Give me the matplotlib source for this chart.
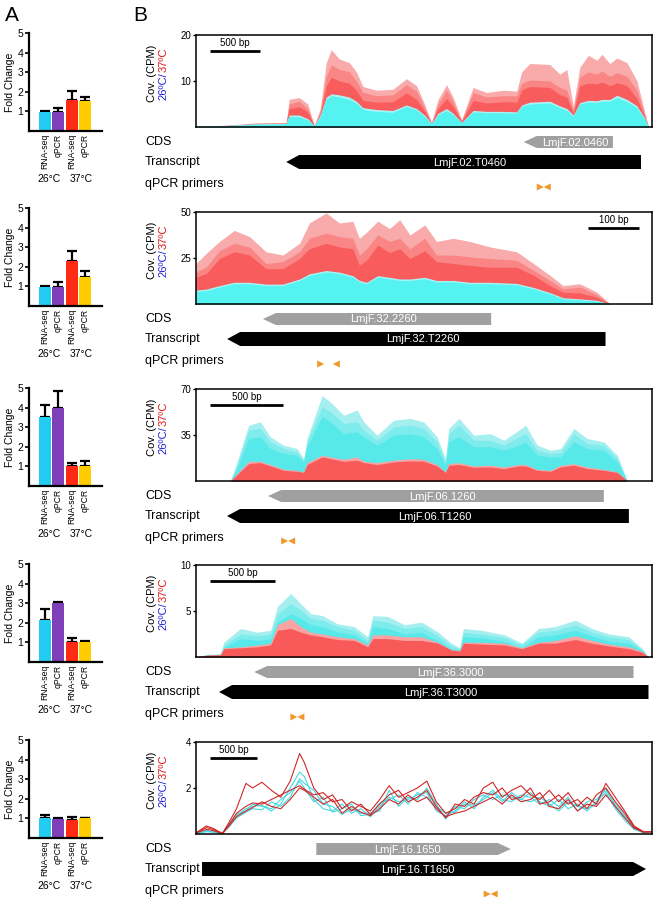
import matplotlib
matplotlib.use("Agg")
import matplotlib.pyplot as plt
from matplotlib.patches import Polygon
from matplotlib.transforms import blended_transform_factory

# ---------------- panel A: fold change bars ----------------
bar_labels = ["RNA-seq", "qPCR", "RNA-seq", "qPCR"]
temps = ["26°C", "37°C"]
bar_colors = ["#22CCF2", "#7E3FB8", "#FF2A14", "#FFCC00"]

fold_1 = [0.95, 0.95, 1.6, 1.55]
err_1 = [0.05, 0.2, 0.42, 0.2]
fold_2 = [0.95, 0.95, 2.3, 1.5]
err_2 = [0.08, 0.25, 0.5, 0.3]
fold_3 = [3.5, 4.0, 1.0, 1.0]
err_3 = [0.65, 0.85, 0.15, 0.3]
fold_4 = [2.15, 3.0, 1.0, 1.0]
err_4 = [0.55, 0.05, 0.2, 0.08]
fold_5 = [1.0, 0.98, 0.92, 1.0]
err_5 = [0.18, 0.03, 0.17, 0.04]

# ---------------- panel B: coverage tracks ----------------
# locus 1: LmjF.02.0460 (37C replicates behind, 26C in front)
p1_len = 4550
p1_bp = [0, 300, 600, 900, 930, 1030, 1115, 1180, 1240, 1300, 1350, 1430, 1530, 1600,
         1665, 1800, 1965, 2100, 2200, 2280, 2350, 2415, 2500, 2565, 2650, 2765, 2900,
         3065, 3200, 3250, 3330, 3530, 3630, 3700, 3765, 3830, 3915, 4000, 4050, 4130,
         4200, 4300, 4400, 4480, 4515, 4550]
p1_red_hi = [0.1, 0.4, 0.9, 1.0, 6.0, 6.4, 5.0, 0.3, 4.0, 14.0, 16.8, 14.8, 14.0, 12.0,
             8.8, 8.0, 8.2, 10.5, 9.0, 5.0, 1.0, 6.0, 9.2, 6.5, 1.5, 8.6, 7.5,
             8.0, 7.8, 12.0, 13.8, 13.6, 11.5, 12.5, 4.5, 13.0, 15.6, 14.5, 15.8, 13.8,
             15.0, 14.0, 10.0, 3.0, 0, 0]
p1_red_mid = [0.1, 0.35, 0.8, 0.9, 5.0, 5.6, 4.0, 0.3, 3.4, 11.0, 13.5, 12.5, 12.0, 10.0,
              7.5, 6.8, 7.0, 9.2, 7.8, 4.2, 0.9, 5.0, 8.0, 5.5, 1.3, 7.5, 6.5,
              6.8, 6.8, 9.5, 10.2, 10.0, 8.6, 8.0, 3.6, 10.8, 12.0, 11.5, 12.2, 11.0,
              11.8, 11.0, 8.0, 2.5, 0, 0]
p1_red_lo = [0.1, 0.3, 0.7, 0.8, 4.0, 4.4, 3.3, 0.3, 2.8, 9.0, 10.8, 10.0, 9.5, 8.0,
             5.8, 5.4, 5.5, 7.4, 6.0, 3.5, 0.8, 4.0, 6.2, 4.5, 1.2, 5.8, 5.2,
             5.5, 5.4, 8.0, 8.8, 8.6, 7.0, 6.5, 3.0, 9.0, 9.5, 9.4, 9.8, 9.0,
             9.6, 9.0, 6.2, 2.0, 0, 0]
p1_cyan_hi = [0.1, 0.35, 0.7, 0.8, 2.6, 2.6, 1.8, 0.3, 2.6, 6.5, 7.2, 7.0, 6.5, 5.6,
              4.2, 3.8, 3.6, 4.8, 4.0, 2.6, 0.8, 3.0, 4.0, 3.0, 1.0, 3.6, 3.4,
              3.4, 3.3, 4.8, 5.4, 5.6, 4.6, 4.0, 2.6, 5.3, 5.8, 5.7, 6.0, 6.0,
              6.9, 6.0, 4.6, 1.8, 0, 0]
p1_cyan_lo = [0.1, 0.3, 0.6, 0.7, 2.3, 2.2, 1.5, 0.3, 2.3, 6.0, 6.8, 6.5, 6.0, 5.2,
              3.8, 3.4, 3.2, 4.5, 3.7, 2.3, 0.7, 2.7, 3.6, 2.7, 0.9, 3.3, 3.1,
              3.1, 3.0, 4.5, 5.0, 5.2, 4.2, 3.6, 2.3, 5.0, 5.4, 5.3, 5.6, 5.6,
              6.4, 5.5, 4.2, 1.6, 0, 0]

# locus 2: LmjF.32.2260
p2_len = 893
p2_bp = [0, 20, 46, 75, 105, 137, 170, 203, 222, 255, 281, 307, 320, 334, 356, 379,
         399, 419, 448, 471, 504, 536, 576, 628, 661, 693, 719, 752, 785, 811, 893]
p2_red_hi = [22, 27.5, 34, 40, 36.6, 28.4, 26.6, 33, 44, 49.5, 44, 45, 35.7, 39, 45, 41,
             45.8, 37.5, 43, 34, 35.7, 34, 31, 28.4, 22, 15.6, 10, 11, 6.4, 0, 0]
p2_red_mid = [17.4, 20, 29, 33, 31, 22, 23, 28.4, 35.7, 38.5, 36.6, 35.7, 26.6, 30, 37.5, 34,
              35.7, 30, 35.7, 26.6, 26.6, 25.6, 24.7, 23.8, 18.3, 12.8, 8.2, 9.2, 5, 0, 0]
p2_red_lo = [14.6, 16.5, 24.7, 28.4, 26.6, 19.2, 19.2, 24.7, 30, 33, 31, 30, 21, 23.8, 32, 28,
             30, 24.7, 29, 23, 22, 21, 20, 20, 15.6, 10, 6.4, 6, 3.7, 0, 0]
p2_cyan_hi = [7.6, 8.1, 10.0, 11.8, 11.8, 10.8, 10.8, 13.6, 16.4, 18.2, 17.3, 15.4, 12.8, 11.8, 15.4, 14.5,
              13.6, 13.6, 14.5, 12.8, 12.8, 11.8, 11.8, 11.2, 9.0, 6.2, 3.4, 2.8, 2.0, 0, 0]
p2_cyan_lo = [6.8, 7.3, 9.2, 11, 11, 10, 10, 12.8, 15.6, 17.4, 16.5, 14.6, 12, 11, 14.6, 13.7,
              12.8, 12.8, 13.7, 12, 12, 11, 11, 10.4, 8.2, 5.5, 2.7, 2.2, 1.5, 0, 0]

# locus 3: LmjF.06.1260 (26C replicates behind, 37C in front)
p3_len = 3117
p3_bp = [0, 235, 280, 360, 440, 508, 600, 691, 736, 759, 862, 919, 1010, 1101, 1147, 1238,
         1352, 1466, 1557, 1648, 1705, 1728, 1797, 1899, 2013, 2104, 2207, 2253, 2332,
         2424, 2492, 2583, 2674, 2788, 2880, 2948, 3117]
p3_cyan_hi = [0, 0, 14.5, 42.5, 45, 33.6, 27.2, 24.7, 17, 32.3, 65, 60, 50, 54, 45, 34.9,
              46.3, 47.6, 45, 33.6, 17, 40, 47.6, 34.9, 36, 31, 38.7, 42.5, 27.2,
              23.4, 24.7, 40, 32.3, 29.8, 19.6, 0, 0]
p3_cyan_mid = [0, 0, 12, 38.7, 40, 29.8, 24.7, 22, 15.8, 29.8, 56.5, 52.7, 43.8, 45, 38.7, 31,
               41.2, 42.5, 40, 29.8, 14.5, 36, 42.5, 31, 31, 27.2, 33.6, 36, 23.4,
               20.9, 21.5, 36, 28.5, 27.2, 17, 0, 0]
p3_cyan_lo = [0, 0, 9.4, 32.3, 33.6, 24.7, 20.9, 19.6, 14.5, 26, 48.9, 45, 36, 37.4, 33.6, 27.2,
              34.9, 36, 33.6, 24.7, 12, 29.8, 33.6, 26, 26, 23.4, 27.2, 29.8, 19.6,
              18.3, 18.3, 29.8, 24.7, 23.4, 14.5, 0, 0]
p3_red_hi = [0, 0, 5.6, 15, 15, 12.5, 8.9, 8.1, 6.9, 14, 19.6, 18.3, 16.5, 18.3, 15, 14,
             15.8, 17, 16.5, 12.5, 6.9, 13.2, 14, 11.5, 12, 10.7, 12.5, 12.5, 8.9,
             8.1, 12, 13.2, 10.7, 8.9, 6.9, 0, 0]
p3_red_lo = [0, 0, 4.8, 13.2, 14, 11.5, 8.1, 7.4, 6.5, 12.5, 18.3, 17, 15, 15.8, 14, 12.5,
             14.5, 15.3, 15, 11.5, 6.5, 12, 12.5, 10.4, 10.7, 9.4, 11.5, 11.5, 8.1,
             7.4, 10.7, 12, 9.4, 8.1, 6.5, 0, 0]

# locus 4: LmjF.36.3000
p4_len = 3500
p4_bp = [0, 85, 188, 213, 342, 470, 573, 625, 727, 804, 882, 971, 1087, 1216, 1318, 1357,
         1473, 1601, 1730, 1858, 1961, 2025, 2051, 2192, 2372, 2501, 2629, 2758, 2912,
         3040, 3169, 3323, 3426, 3472, 3500]
p4_cyan_hi = [0, 0.3, 0.35, 1.6, 3.1, 2.7, 2.9, 5.5, 6.9, 5.8, 4.7, 4.5, 3.6, 3.3, 2.2, 4.5,
              4.4, 3.5, 3.8, 2.7, 1.5, 1.0, 3.1, 2.9, 2.4, 1.5, 3.1, 3.3, 4.0,
              3.1, 2.5, 2.2, 0.9, 0, 0]
p4_cyan_mid = [0, 0.25, 0.3, 1.3, 2.5, 2.3, 2.5, 4.7, 5.8, 5.1, 4.2, 4.0, 3.3, 2.9, 1.8, 4.0,
               3.8, 3.1, 3.3, 2.3, 1.2, 0.9, 2.7, 2.5, 2.1, 1.3, 2.7, 2.9, 3.5,
               2.7, 2.2, 1.9, 0.8, 0, 0]
p4_cyan_lo = [0, 0.2, 0.25, 1.0, 2.0, 1.8, 2.0, 3.8, 4.7, 4.2, 3.5, 3.3, 2.7, 2.4, 1.5, 3.3,
              3.1, 2.5, 2.7, 1.8, 0.9, 0.8, 2.2, 2.1, 1.7, 1.0, 2.2, 2.4, 2.9,
              2.3, 1.7, 1.5, 0.7, 0, 0]
p4_red_hi = [0, 0.2, 0.25, 1.0, 1.1, 1.3, 1.5, 3.5, 4.2, 3.3, 2.7, 2.5, 2.2, 2.0, 1.3, 2.4,
             2.4, 2.2, 2.2, 1.6, 0.8, 0.7, 1.6, 1.6, 1.5, 1.0, 1.6, 1.8, 2.3,
             1.8, 1.4, 1.1, 0.6, 0, 0]
p4_red_lo = [0, 0.2, 0.25, 0.9, 1.0, 1.1, 1.3, 2.9, 3.1, 2.7, 2.4, 2.2, 1.9, 1.8, 1.1, 2.0,
             2.0, 1.8, 1.8, 1.5, 0.75, 0.65, 1.5, 1.4, 1.3, 0.9, 1.5, 1.5, 1.9,
             1.5, 1.2, 0.9, 0.5, 0, 0]

# locus 5: LmjF.16.1650 (replicates as lines)
p5_len = 4840
p5_bp = [0, 110, 180, 280, 350, 430, 530, 600, 700, 800, 900, 1000, 1100, 1150, 1250, 1350,
         1450, 1550, 1650, 1750, 1850, 1950, 2050, 2150, 2250, 2350, 2450, 2550, 2650,
         2750, 2850, 2950, 3050, 3150, 3250, 3350, 3450, 3550, 3650, 3750, 3850, 3950,
         4050, 4150, 4250, 4350, 4450, 4550, 4650, 4750, 4840]
p5_red_a = [0.05, 0.35, 0.25, 0.02, 0.5, 1.1, 2.2, 2.0, 2.25, 1.9, 1.6, 2.3, 3.5, 3.1, 2.0, 1.5,
            1.7, 1.1, 1.4, 1.2, 1.0, 1.5, 2.1, 1.6, 1.8, 2.0, 2.3, 1.4, 0.9,
            1.1, 1.5, 1.3, 2.0, 2.25, 1.6, 1.9, 2.1, 1.7, 1.5, 1.9, 1.4, 1.8,
            1.2, 1.6, 1.3, 2.2, 1.6, 1.0, 0.35, 0.1, 0.1]
p5_red_b = [0.05, 0.28, 0.2, 0.02, 0.4, 0.9, 1.2, 1.35, 1.3, 1.5, 1.7, 1.9, 2.1, 1.95, 1.7, 1.8,
            1.4, 1.5, 1.0, 1.3, 0.85, 1.3, 1.7, 1.9, 1.4, 1.6, 1.9, 1.2, 0.7,
            1.3, 1.2, 1.6, 1.8, 1.7, 2.0, 1.5, 1.6, 2.0, 1.3, 1.4, 1.7, 1.3,
            1.5, 1.1, 1.7, 2.0, 1.4, 0.9, 0.3, 0.08, 0.1]
p5_red_c = [0.05, 0.2, 0.15, 0.02, 0.35, 0.75, 1.0, 1.15, 1.4, 1.2, 1.1, 1.5, 2.0, 1.9, 1.6, 1.3,
            1.5, 0.9, 1.2, 0.95, 0.8, 1.1, 1.5, 1.3, 1.7, 1.4, 1.6, 1.1, 0.75,
            0.9, 1.0, 1.2, 1.4, 1.6, 1.3, 1.7, 1.4, 1.5, 1.8, 1.2, 1.1, 1.5,
            1.0, 1.3, 1.2, 1.7, 1.2, 0.7, 0.25, 0.08, 0.1]
p5_cyan_a = [0.02, 0.15, 0.1, 0.02, 0.4, 0.8, 1.1, 1.2, 1.25, 1.0, 1.3, 2.0, 2.7, 2.5, 1.5, 1.1,
             1.0, 1.3, 0.9, 1.1, 0.75, 1.2, 1.6, 1.4, 1.5, 1.7, 1.8, 1.0, 0.8,
             1.0, 1.4, 1.1, 1.6, 1.9, 1.5, 1.4, 1.7, 1.6, 1.3, 1.5, 1.2, 1.6,
             1.0, 1.4, 1.5, 1.9, 1.3, 0.8, 0.3, 0.06, 0.08]
p5_cyan_b = [0.02, 0.12, 0.1, 0.02, 0.3, 0.7, 0.95, 1.1, 1.05, 1.4, 1.2, 1.6, 2.4, 2.2, 1.9, 1.3,
             1.2, 0.85, 1.1, 0.9, 0.9, 1.0, 1.9, 1.2, 1.6, 1.5, 2.0, 1.3, 0.65,
             1.2, 1.1, 1.5, 1.7, 1.5, 1.7, 1.6, 1.5, 1.8, 1.4, 1.2, 1.5, 1.1,
             1.3, 1.0, 1.4, 1.8, 1.1, 0.6, 0.2, 0.06, 0.08]
p5_cyan_c = [0.02, 0.1, 0.08, 0.02, 0.35, 0.85, 1.0, 1.3, 1.2, 1.1, 1.5, 1.8, 2.3, 2.0, 1.4, 1.6,
             0.95, 1.1, 1.3, 0.8, 0.85, 1.35, 1.5, 1.7, 1.3, 1.8, 1.6, 1.2, 0.9,
             0.95, 1.3, 1.25, 1.5, 1.8, 1.4, 1.8, 1.5, 1.4, 1.6, 1.3, 1.0, 1.4,
             1.2, 1.1, 1.3, 2.0, 1.2, 0.75, 0.25, 0.05, 0.08]

# gene models (bp): (tip/start, end) and primer tips
cds_names = ["LmjF.02.0460", "LmjF.32.2260", "LmjF.06.1260", "LmjF.36.3000", "LmjF.16.1650"]
tr_names = ["LmjF.02.T0460", "LmjF.32.T2260", "LmjF.06.T1260", "LmjF.36.T3000", "LmjF.16.T1650"]
cds_span = [(3270, 4160), (131, 578), (493, 2788), (447, 3358), (1277, 3341)]
tr_span = [(900, 4440), (61, 802), (212, 2959), (177, 3473), (64, 4777)]
strand = [-1, -1, -1, -1, 1]
primer_fwd = [3470, 251, 630, 778, 3128]
primer_rev = [3470, 268, 630, 778, 3128]
scale_bp = [500, 100, 500, 500, 500]
scale_start = [140, 768, 96, 108, 149]
y_max = [20, 50, 70, 10, 4]

W, H = 659, 897
fig = plt.figure(figsize=(W / 100, H / 100), dpi=100)
plt.rcParams["font.family"] = ["Liberation Sans", "DejaVu Sans"]
NARROW = ["Liberation Sans Narrow", "Liberation Sans", "DejaVu Sans"]


def px_axes(left, top, width, height):
    return fig.add_axes([left / W, 1 - (top + height) / H, width / W, height / H])


# ---------- A ----------
bar_pos = [0, 1, 2.08, 3.08]
bar_tops = [33, 208, 388, 564, 740]
folds = [fold_1, fold_2, fold_3, fold_4, fold_5]
errs = [err_1, err_2, err_3, err_4, err_5]
for top, fold, err in zip(bar_tops, folds, errs):
    ax = px_axes(29, top, 73, 98)
    ax.bar(bar_pos, fold, width=0.92, color=bar_colors, zorder=2)
    ax.errorbar(bar_pos, fold, yerr=[[0] * 4, err], fmt="none", ecolor="black",
                elinewidth=1.6, capsize=3.5, capthick=1.6, zorder=1)
    ax.set_xlim(-1.23, 4.39)
    ax.set_ylim(0, 5)
    ax.set_yticks([1, 2, 3, 4, 5])
    ax.tick_params(axis="y", labelsize=7.5, length=3, width=1.2, pad=1)
    ax.set_xticks(bar_pos, bar_labels, rotation=90, fontsize=6.2)
    ax.tick_params(axis="x", length=0, pad=2)
    for s in ["top", "right"]:
        ax.spines[s].set_visible(False)
    ax.spines["left"].set_linewidth(1.6)
    ax.spines["bottom"].set_linewidth(1.6)
    ax.set_ylabel("Fold Change", fontsize=7.5, labelpad=2)
    for gx, t in zip([0.3, 2.8], temps):
        ax.annotate(t, xy=(gx, 0), xycoords=("data", "axes fraction"),
                    xytext=(0, -48), textcoords="offset pixels",
                    ha="center", va="center", fontsize=7.5)

fig.text(5 / W, 1 - 6 / H, "A", fontsize=15, va="top")
fig.text(133 / W, 1 - 6 / H, "B", fontsize=15, va="top")

# ---------- B ----------
RED = ["#F9AAAA", "#F98585", "#F95C5C"]
CYAN3 = ["#A6EFF0", "#7EEBEC", "#57E8E9"]
CYAN2 = ["#A6F4F4", "#55F2F2"]
RED2 = ["#F9A3A3", "#F85A5A"]

cov_tops = [35, 212, 389, 565, 742]
lengths = [p1_len, p2_len, p3_len, p4_len, p5_len]
renderer = fig.canvas.get_renderer()


def fill_layers(ax, x, layers, colors):
    for arr, c in zip(layers, colors):
        ax.fill_between(x, 0, arr, color=c, lw=0)


def gene(ax, span, y, h, head, color, label, direction):
    a, b = span
    if direction < 0:
        pts = [(a, y), (a + head, y - h / 2), (b, y - h / 2), (b, y + h / 2), (a + head, y + h / 2)]
        cx = (a + head + b) / 2
    else:
        pts = [(a, y - h / 2), (b - head, y - h / 2), (b, y), (b - head, y + h / 2), (a, y + h / 2)]
        cx = (a + b - head) / 2
    ax.add_patch(Polygon(pts, closed=True, fc=color, ec="none"))
    ax.text(cx, y + 0.5, label, color="white", ha="center", va="center",
            fontsize=8, family=NARROW)


for i in range(5):
    L = lengths[i]
    top = cov_tops[i]
    ax = px_axes(196, top, 456, 92)
    if i == 0:
        fill_layers(ax, p1_bp, [p1_red_hi, p1_red_mid, p1_red_lo], RED)
        fill_layers(ax, p1_bp, [p1_cyan_hi, p1_cyan_lo], CYAN2)
    elif i == 1:
        fill_layers(ax, p2_bp, [p2_red_hi, p2_red_mid, p2_red_lo], RED)
        fill_layers(ax, p2_bp, [p2_cyan_hi, p2_cyan_lo], CYAN2)
    elif i == 2:
        fill_layers(ax, p3_bp, [p3_cyan_hi, p3_cyan_mid, p3_cyan_lo], CYAN3)
        fill_layers(ax, p3_bp, [p3_red_hi, p3_red_lo], RED2)
    elif i == 3:
        fill_layers(ax, p4_bp, [p4_cyan_hi, p4_cyan_mid, p4_cyan_lo], CYAN3)
        fill_layers(ax, p4_bp, [p4_red_hi, p4_red_lo], RED2)
    else:
        for arr in [p5_cyan_a, p5_cyan_b, p5_cyan_c]:
            ax.plot(p5_bp, arr, color="#45D8E2", lw=0.8)
        for arr in [p5_red_a, p5_red_b, p5_red_c]:
            ax.plot(p5_bp, arr, color="#D02828", lw=0.8)
    ax.set_xlim(0, L)
    ax.set_ylim(0, y_max[i])
    ax.set_xticks([])
    ax.set_yticks([y_max[i] / 2, y_max[i]], [f"{y_max[i] / 2:g}", f"{y_max[i]:g}"])
    ax.tick_params(axis="y", labelsize=7, length=2.5, width=1, pad=1)
    for s in ax.spines.values():
        s.set_linewidth(1.1)

    # scale bar
    sb = blended_transform_factory(ax.transData, ax.transAxes)
    x0 = scale_start[i]
    ax.plot([x0, x0 + scale_bp[i]], [0.83, 0.83], color="black", lw=2, transform=sb,
            solid_capstyle="butt")
    ax.text(x0 + scale_bp[i] / 2, 0.86, f"{scale_bp[i]} bp", transform=sb,
            ha="center", va="bottom", fontsize=7, family=NARROW)

    # y label: Cov. (CPM) / 26ºC/37ºC
    ax.text(-0.096, 0.58, "Cov. (CPM)", transform=ax.transAxes, rotation=90,
            ha="center", va="center", fontsize=8, family=NARROW)
    t1 = ax.text(-0.072, 0.0, "26ºC/", transform=ax.transAxes, rotation=90,
                 ha="center", va="bottom", fontsize=8, color="#2020D8", family=NARROW)
    t2 = ax.text(-0.072, 0.0, "37ºC", transform=ax.transAxes, rotation=90,
                 ha="center", va="bottom", fontsize=8, color="#E01515", family=NARROW)
    h1 = t1.get_window_extent(renderer).height / 92.0
    h2 = t2.get_window_extent(renderer).height / 92.0
    y0 = 0.58 - (h1 + h2) / 2
    t1.set_y(y0)
    t2.set_y(y0 + h1)

    # gene track
    tk = px_axes(196, top + 92, 456, 67)
    tk.set_xlim(0, L)
    tk.set_ylim(67, 0)
    tk.axis("off")
    bpp = L / 456
    gene(tk, cds_span[i], 15, 12, 13 * bpp, "#A0A0A0", cds_names[i], strand[i])
    gene(tk, tr_span[i], 35, 14, 13 * bpp, "black", tr_names[i], strand[i])
    w = 7 * bpp
    f = primer_fwd[i]
    r = primer_rev[i]
    tk.add_patch(Polygon([(f - w, 56.5), (f, 60), (f - w, 63.5)], fc="#F0982A", ec="none"))
    tk.add_patch(Polygon([(r + w, 56.5), (r, 60), (r + w, 63.5)], fc="#F0982A", ec="none"))
    lab = blended_transform_factory(fig.transFigure, tk.transData)
    for yy, txt in zip([15, 35, 57], ["CDS", "Transcript", "qPCR primers"]):
        tk.text(145 / W, yy, txt, transform=lab, ha="left", va="center",
                fontsize=9, family=NARROW)

fig.savefig("out.png", dpi=100)
